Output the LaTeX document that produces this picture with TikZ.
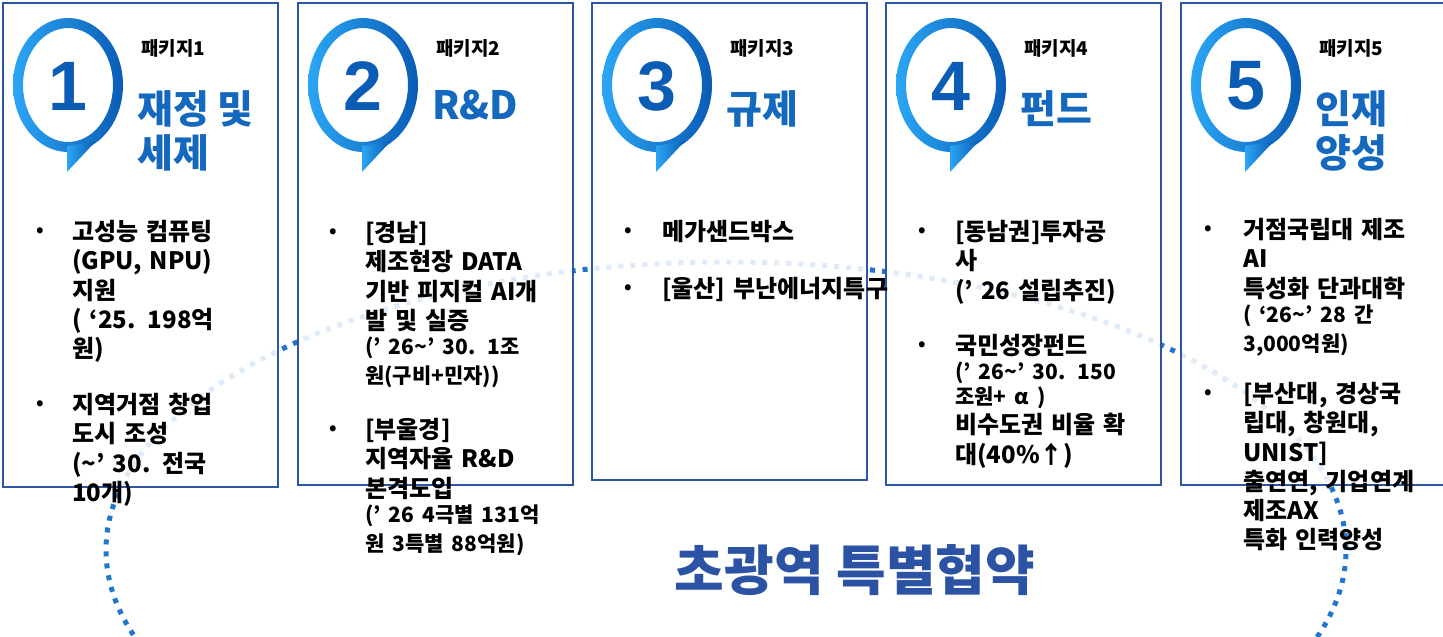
\documentclass[tikz,border=0pt]{standalone}
\usepackage{fontspec}
\setmainfont{Noto Sans CJK KR}
\newfontfamily\numfont{Liberation Sans}
\usetikzlibrary{positioning}
\setlength\parindent{0pt}

\definecolor{boxblue}{HTML}{2F55A5}
\definecolor{titleblue}{HTML}{1468BE}
\definecolor{ringlight}{HTML}{2BA6F4}
\definecolor{ringdark}{HTML}{0A5CB5}
\definecolor{dotblue}{HTML}{2175CF}
\definecolor{headblue}{HTML}{2B52A3}

\newcommand\maintxt{\fontsize{24}{29.3}\selectfont}
\newcommand\smalltxt{\fontsize{21}{25}\selectfont}

\tikzset{
	pkgbox/.style = {draw = boxblue, line width = 2.4pt, fill = white, fill opacity = 0.86},
	pkgnum/.style = {inner sep = 0, text = ringdark, font = \numfont\bfseries\fontsize{70}{70}\selectfont},
	pkglabel/.style = {anchor = west, inner sep = 0, font = \bfseries\fontsize{19}{19}\selectfont},
	pkgtitle/.style = {anchor = north west, inner sep = 0, align = left, text = titleblue, font = \bfseries\fontsize{39}{44}\selectfont},
	pkgbullet/.style = {inner sep = 0, font = \bfseries\fontsize{19}{19}\selectfont},
	pkgitem/.style = {anchor = north west, inner sep = 0, text width = 320pt, align = left, font = \bfseries\maintxt},
}

\begin{document}
\begin{tikzpicture}[x = 1pt, y = -1pt]
	\useasboundingbox (0, 0) rectangle (1443, 637);
	\clip (0, 0) rectangle (1443, 637);

	% dotted ring behind the boxes
	\draw [dotblue, line width = 5pt, dash pattern = on 5pt off 7pt] (726, 550) ellipse (620pt and 288pt);

	% five package boxes
	\foreach \n / \l / \b / \t in {1/3/487/{재정 및\\세제}, 2/298/485/{R\&D}, 3/592/480/{규제}, 4/886/485/{펀드}, 5/1181/485/{인재\\양성}}
	{
		\draw [pkgbox] (\l, 3) rectangle (\l + 275, \b);
		\shade [left color = ringlight, right color = ringdark, even odd rule] (\l + 65, 85) ellipse (55pt and 67pt) (\l + 65, 85) ellipse (45pt and 57pt);
		\shade [left color = ringlight, right color = ringdark] (\l + 64, 146) -- (\l + 64, 172) -- (\l + 93, 141) -- cycle;
		\node [pkgnum] (num\n) at (\l + 65, 86) {\n};
		\node [pkglabel] (pkg\n) at (\l + 138, 48) {패키지\n};
		\node [pkgtitle] (title\n) at (\l + 134, 90) {\t};
	}

	% package 1
	\node [pkgbullet] (b1a) at (40, 232) {•};
	\node [pkgitem] (t1a) at (72, 220) {고성능 컴퓨팅\par (GPU, NPU)\par 지원\par ( ‘25. 198억\par 원)};
	\node [pkgbullet] (b1b) at (40, 405) {•};
	\node [pkgitem] (t1b) at (72, 393) {지역거점 창업\par 도시 조성\par (\textasciitilde’ 30. 전국\par 10개)};

	% package 2
	\node [pkgbullet] (b2a) at (333, 233) {•};
	\node [pkgitem] (t2a) at (365, 221) {[경남]\par 제조현장 DATA\par 기반 피지컬 AI개\par 발 및 실증\par \smalltxt (’ 26\textasciitilde’ 30. 1조\par 원(구비+민자))};
	\node [pkgbullet] (b2b) at (333, 430) {•};
	\node [pkgitem] (t2b) at (365, 418) {[부울경]\par 지역자율 R\&D\par 본격도입\par \smalltxt (’ 26 4극별 131억\par 원 3특별 88억원)};

	% package 3
	\node [pkgbullet] (b3a) at (628, 232) {•};
	\node [pkgitem] (t3a) at (662, 220) {메가샌드박스};
	\node [pkgbullet] (b3b) at (628, 289) {•};
	\node [pkgitem] (t3b) at (662, 277) {[울산] 부난에너지특구};

	% package 4
	\node [pkgbullet] (b4a) at (922, 232) {•};
	\node [pkgitem] (t4a) at (955, 220) {[동남권]투자공\par 사\par (’ 26 설립추진)};
	\node [pkgbullet] (b4b) at (922, 346) {•};
	\node [pkgitem] (t4b) at (955, 334) {국민성장펀드\par \smalltxt (’ 26\textasciitilde’ 30. 150\par 조원+ α )\par \maintxt 비수도권 비율 확\par 대(40\%↑)};

	% package 5
	\node [pkgbullet] (b5a) at (1208, 230) {•};
	\node [pkgitem] (t5a) at (1243, 218) {거점국립대 제조\par AI\par 특성화 단과대학\par \smalltxt ( ‘26\textasciitilde’ 28 간\par 3,000억원)};
	\node [pkgbullet] (b5b) at (1208, 394) {•};
	\node [pkgitem] (t5b) at (1243, 382) {[부산대, 경상국\par 립대, 창원대,\par UNIST]\par 출연연, 기업연계\par 제조AX\par 특화 인력양성};

	\node [text = headblue, font = \bfseries\fontsize{54}{54}\selectfont] (deal) at (855, 570) {초광역 특별협약};
\end{tikzpicture}
\end{document}
